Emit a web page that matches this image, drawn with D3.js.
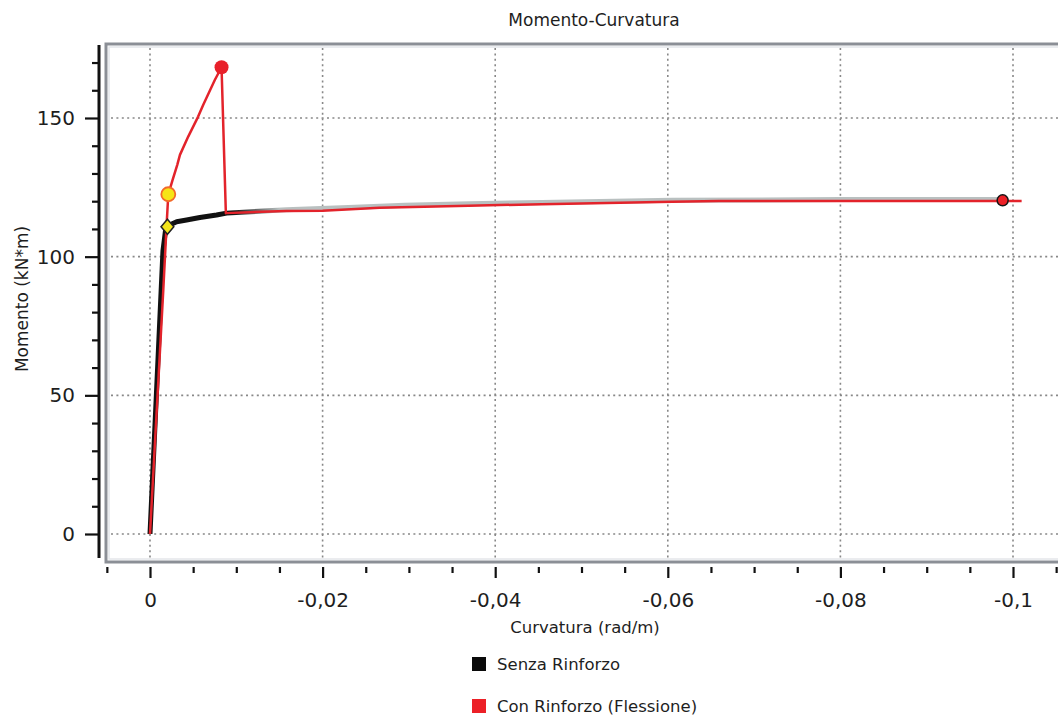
<!DOCTYPE html>
<html>
<head>
<meta charset="utf-8">
<script src="https://cdn.jsdelivr.net/npm/d3@7"></script>
<style>
  html, body { margin: 0; padding: 0; background: #fff; }
  svg { display: block; }
  text { font-family: "DejaVu Sans", sans-serif; fill: #1e1e1e; }
</style>
</head>
<body>
<svg id="chart" width="1058" height="715"></svg>
<script>
// Series: curvature (rad/m) vs moment (kN*m)
const senzaCurv = [0, -0.0015, -0.00185, -0.00309, -0.00424, -0.00578, -0.00771, -0.00887,
  -0.0158, -0.023, -0.0295, -0.037, -0.0454, -0.0605, -0.080, -0.0988];
const senzaMom = [0, 102, 110.8, 112.6, 113.2, 114.1, 115.0, 115.7,
  116.9, 117.7, 118.5, 119.1, 119.5, 120.3, 120.6, 120.6];

const conCurv = [0, -0.00154, -0.0019, -0.00212, -0.00262, -0.00316, -0.00347, -0.00443,
  -0.00558, -0.00616, -0.00751, -0.00829, -0.00879, -0.0158, -0.020, -0.0266, -0.0369,
  -0.0454, -0.0605, -0.0659, -0.0988, -0.1010];
const conMom = [0, 88, 110, 122.5, 127.7, 133.1, 136.7, 143.3,
  150.5, 154.7, 163.7, 168.3, 115.7, 116.5, 116.6, 117.6, 118.4,
  118.9, 119.8, 120.1, 120.1, 120.1];

// Notable points
const senzaYield = { curv: -0.00202, mom: 110.8 };
const senzaUltimate = { curv: -0.0988, mom: 120.3 };
const conYield = { curv: -0.00212, mom: 122.5 };
const conPeak = { curv: -0.00829, mom: 168.3 };

// Axis ticks
const xMajorTicks = [0, -0.02, -0.04, -0.06, -0.08, -0.1];
const xTickLabels = ["0", "-0,02", "-0,04", "-0,06", "-0,08", "-0,1"];
const xMinorTicks = [0.005, -0.005, -0.01, -0.015, -0.025, -0.03, -0.035, -0.045, -0.05, -0.055,
  -0.065, -0.07, -0.075, -0.085, -0.09, -0.095, -0.105];
const yMajorTicks = [0, 50, 100, 150];
const yTickLabels = ["0", "50", "100", "150"];
const yMinorTicks = [10, 20, 30, 40, 60, 70, 80, 90, 110, 120, 130, 140, 160, 170];

const legendNames = ["Senza Rinforzo", "Con Rinforzo (Flessione)"];
const legendColors = ["#0a0a0a", "#ec2027"];

// Layout
const W = 1058, H = 715;
const frame = { left: 106, top: 44, bottom: 562 };
const yAxisX = 99, xAxisY = 567;

const svg = d3.select("#chart");

const x = d3.scaleLinear().domain([0, -0.1]).range([150, 1013]);
const y = d3.scaleLinear().domain([0, 150]).range([534, 118]);

// Plot frame
svg.append("rect")
  .attr("x", frame.left + 3).attr("y", frame.top + 3)
  .attr("width", W).attr("height", frame.bottom - frame.top - 6)
  .attr("fill", "none").attr("stroke", "#e4e6ea").attr("stroke-width", 1.5);
svg.append("rect")
  .attr("x", frame.left).attr("y", frame.top)
  .attr("width", W).attr("height", frame.bottom - frame.top)
  .attr("fill", "none").attr("stroke", "#8b8f96").attr("stroke-width", 3);

svg.append("clipPath").attr("id", "plotClip")
  .append("rect")
  .attr("x", frame.left + 2).attr("y", frame.top + 2)
  .attr("width", W).attr("height", frame.bottom - frame.top - 4);

const plot = svg.append("g").attr("clip-path", "url(#plotClip)");

// Dotted grid
plot.selectAll("line.vgrid").data(xMajorTicks).join("line")
  .attr("class", "vgrid")
  .attr("x1", d => x(d)).attr("x2", d => x(d))
  .attr("y1", frame.top + 4).attr("y2", frame.bottom - 4)
  .attr("stroke", "#888").attr("stroke-width", 1.6).attr("stroke-dasharray", "2,3.4");
plot.selectAll("line.hgrid").data(yMajorTicks).join("line")
  .attr("class", "hgrid")
  .attr("x1", frame.left + 5).attr("x2", W)
  .attr("y1", d => y(d)).attr("y2", d => y(d))
  .attr("stroke", "#888").attr("stroke-width", 1.6).attr("stroke-dasharray", "2,3.4");

// Curves
const defs = svg.append("defs");
const grad = defs.append("linearGradient").attr("id", "senzaGrad")
  .attr("gradientUnits", "userSpaceOnUse")
  .attr("x1", x(-0.0095)).attr("x2", x(-0.015)).attr("y1", 0).attr("y2", 0);
grad.append("stop").attr("offset", 0).attr("stop-color", "#111");
grad.append("stop").attr("offset", 1).attr("stop-color", "#b9c0c0");

const line = d3.line().x(d => x(d[0])).y(d => y(d[1]));

plot.append("path")
  .datum(d3.zip(senzaCurv, senzaMom))
  .attr("d", line)
  .attr("fill", "none").attr("stroke", "url(#senzaGrad)")
  .attr("stroke-width", 5).attr("stroke-linejoin", "round");

plot.append("path")
  .datum(d3.zip(conCurv, conMom))
  .attr("d", line)
  .attr("fill", "none").attr("stroke", "#e3232b")
  .attr("stroke-width", 2.5).attr("stroke-linejoin", "round");

// Markers
plot.append("path")
  .attr("d", d3.symbol(d3.symbolDiamond, 90)())
  .attr("transform", `translate(${x(senzaYield.curv)},${y(senzaYield.mom)}) scale(1.25,0.85)`)
  .attr("fill", "#f2e41a").attr("stroke", "#222").attr("stroke-width", 1.4);
plot.append("circle")
  .attr("cx", x(conYield.curv)).attr("cy", y(conYield.mom)).attr("r", 7)
  .attr("fill", "#f6e516").attr("stroke", "#f26a2a").attr("stroke-width", 1.8);
plot.append("circle")
  .attr("cx", x(conPeak.curv)).attr("cy", y(conPeak.mom)).attr("r", 7)
  .attr("fill", "#e8202a");
plot.append("circle")
  .attr("cx", x(senzaUltimate.curv)).attr("cy", y(senzaUltimate.mom)).attr("r", 5.5)
  .attr("fill", "#ec2027").attr("stroke", "#151515").attr("stroke-width", 1.5);

// Y axis
const yAxisG = svg.append("g").attr("transform", `translate(${yAxisX},0)`);
yAxisG.call(d3.axisLeft(y).tickValues(yMajorTicks).tickSize(14).tickPadding(10)
  .tickFormat((d, i) => yTickLabels[i]));
yAxisG.append("g").call(d3.axisLeft(y).tickValues(yMinorTicks).tickSize(7).tickFormat(""));
yAxisG.selectAll(".domain").remove();
yAxisG.selectAll(".tick line").attr("stroke", "#111").attr("stroke-width", 2.2);
yAxisG.selectAll(".tick text").attr("font-size", 20).attr("fill", "#222")
  .style("font-family", "'DejaVu Sans', sans-serif");
yAxisG.append("line")
  .attr("x1", 0).attr("x2", 0).attr("y1", frame.top + 1).attr("y2", frame.bottom - 4)
  .attr("stroke", "#111").attr("stroke-width", 3);

// X axis
const xAxisG = svg.append("g").attr("transform", `translate(0,${xAxisY})`);
xAxisG.call(d3.axisBottom(x).tickValues(xMajorTicks).tickSize(11).tickPadding(15)
  .tickFormat((d, i) => xTickLabels[i]));
xAxisG.append("g").call(d3.axisBottom(x).tickValues(xMinorTicks).tickSize(6).tickFormat(""));
xAxisG.selectAll(".domain").remove();
xAxisG.selectAll(".tick line").attr("stroke", "#111").attr("stroke-width", 2.2);
xAxisG.selectAll(".tick text").attr("font-size", 20).attr("fill", "#222")
  .style("font-family", "'DejaVu Sans', sans-serif");

// Titles
svg.append("text").attr("x", 594).attr("y", 26).attr("text-anchor", "middle")
  .attr("font-size", 17).text("Momento-Curvatura");
svg.append("text").attr("x", 585).attr("y", 633).attr("text-anchor", "middle")
  .attr("font-size", 16.5).text("Curvatura (rad/m)");
svg.append("text").attr("transform", "translate(28,299) rotate(-90)")
  .attr("text-anchor", "middle").attr("font-size", 17).text("Momento (kN*m)");

// Legend
const legend = svg.append("g").selectAll("g").data(legendNames).join("g")
  .attr("transform", (d, i) => `translate(472,${657 + i * 42})`);
legend.append("rect").attr("width", 14).attr("height", 14)
  .attr("fill", (d, i) => legendColors[i]);
legend.append("text").attr("x", 25).attr("y", 13).attr("font-size", 16.5).text(d => d);
</script>
</body>
</html>
